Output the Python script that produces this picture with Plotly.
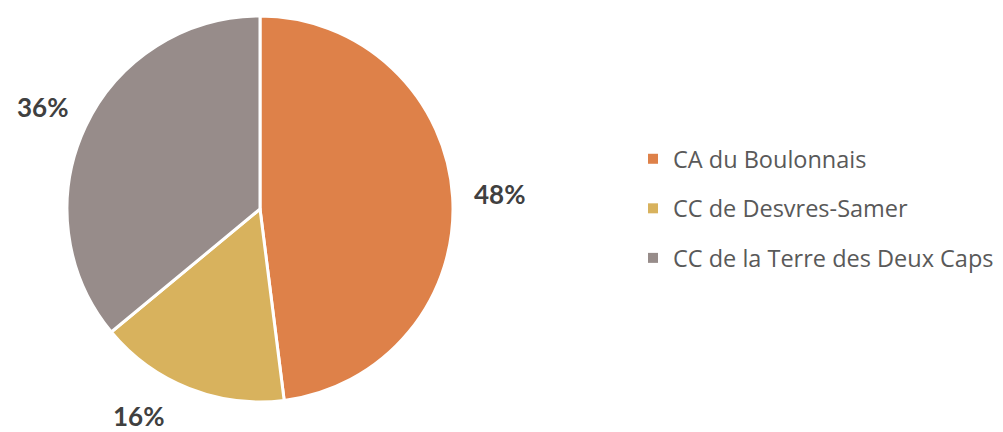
import math
import plotly.graph_objects as go

categories = ["CA du Boulonnais", "CC de Desvres-Samer", "CC de la Terre des Deux Caps"]
values = [48, 16, 36]
colors = ["#DE8149", "#D8B25D", "#978C8A"]

W, H = 1003, 432
cx, cy, r = 260, 209, 193

fig = go.Figure()
fig.add_trace(go.Pie(
    labels=categories, values=values, sort=False, direction="clockwise", rotation=0,
    marker=dict(colors=colors, line=dict(color="white", width=3)),
    textinfo="none", hoverinfo="label+percent", showlegend=False,
    domain=dict(x=[(cx - r) / W, (cx + r) / W], y=[1 - (cy + r) / H, 1 - (cy - r) / H]),
))

# legend entries
for i, (cat, col) in enumerate(zip(categories, colors)):
    fig.add_trace(go.Scatter(x=[None], y=[None], mode="markers", name=cat,
                             legendgroup=f"g{i}",
                             marker=dict(symbol="square", size=10, color=col)))

# percentage labels outside the pie (kept inside the canvas by sliding along the circle)
total = sum(values)
cum = 0
label_r = 240
max_y = H - 16
for v in values:
    mid = (cum + v / 2) / total * 2 * math.pi
    cum += v
    px = cx + label_r * math.sin(mid)
    py = cy - label_r * math.cos(mid)
    if py > max_y:
        dy = max_y - cy
        dx = math.sqrt(label_r ** 2 - dy ** 2)
        px = cx + (dx if px > cx else -dx)
        py = max_y
    fig.add_annotation(x=px / W, y=1 - py / H, xref="paper", yref="paper",
                       xanchor="center", yanchor="middle", borderpad=0,
                       text=f"{round(v / total * 100)}%", showarrow=False,
                       font=dict(family="Lato", size=26, color="#404040", weight="bold"))

fig.update_layout(
    width=W, height=H, margin=dict(l=0, r=0, t=0, b=0, autoexpand=False),
    paper_bgcolor="white", plot_bgcolor="white",
    xaxis=dict(visible=False), yaxis=dict(visible=False),
    legend=dict(x=633 / W, y=1 - 137 / H, xanchor="left", yanchor="top",
                font=dict(family="Open Sans", size=23.5, color="#595959"),
                tracegroupgap=16, itemwidth=30),
)
fig.write_html("out.html", config={"displayModeBar": False},
               post_script="document.body.style.margin='0px';")
